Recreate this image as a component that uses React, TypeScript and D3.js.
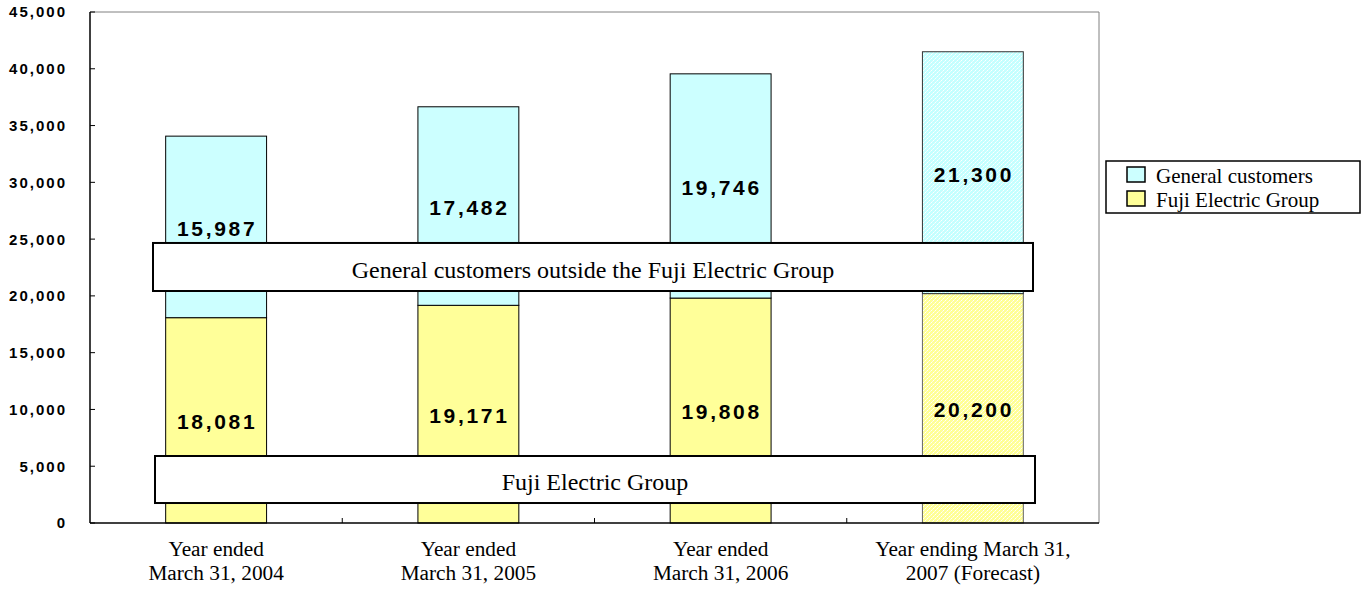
import { useEffect, useRef } from "react";
import * as d3 from "d3";

const categories = [
  ["Year ended", "March 31, 2004"],
  ["Year ended", "March 31, 2005"],
  ["Year ended", "March 31, 2006"],
  ["Year ending March 31,", "2007 (Forecast)"],
];
const fujiGroup = [18081, 19171, 19808, 20200];
const generalCustomers = [15987, 17482, 19746, 21300];
const forecast = [false, false, false, true];
const yTicks = [0, 5000, 10000, 15000, 20000, 25000, 30000, 35000, 40000, 45000];

const W = 1369;
const H = 589;
const SERIF = "'Liberation Serif', 'Times New Roman', serif";
const SANS = "'Liberation Sans', Arial, sans-serif";

export default function App() {
  const svgRef = useRef<SVGSVGElement | null>(null);

  useEffect(() => {
    const svg = d3.select(svgRef.current);
    svg.selectAll("*").remove();

    const left = 90, right = 1099, top = 12, bottom = 523;

    const x = d3.scaleBand<number>()
      .domain(d3.range(categories.length))
      .range([left, right])
      .paddingInner(0.6)
      .paddingOuter(0.3);
    const y = d3.scaleLinear().domain([0, 45000]).range([bottom, top]);

    // dotted fill for the forecast bar
    const defs = svg.append("defs");
    const mkPattern = (id: string, base: string) => {
      const p = defs.append("pattern")
        .attr("id", id)
        .attr("width", 4)
        .attr("height", 4)
        .attr("patternUnits", "userSpaceOnUse");
      p.append("rect").attr("width", 4).attr("height", 4).attr("fill", base);
      p.append("rect").attr("x", 1).attr("y", 0).attr("width", 1).attr("height", 1).attr("fill", "#fff");
      p.append("rect").attr("x", 3).attr("y", 2).attr("width", 1).attr("height", 1).attr("fill", "#fff");
      p.append("rect").attr("x", 0).attr("y", 1).attr("width", 1).attr("height", 1).attr("fill", "#fff").attr("opacity", 0.6);
      p.append("rect").attr("x", 2).attr("y", 3).attr("width", 1).attr("height", 1).attr("fill", "#fff").attr("opacity", 0.6);
    };
    mkPattern("patGen", "#c4ffff");
    mkPattern("patFuji", "#ffff96");

    // plot border (top/right)
    svg.append("path")
      .attr("d", `M${left},${top}H${right}V${bottom}`)
      .attr("fill", "none")
      .attr("stroke", "#808080")
      .attr("stroke-width", 1);

    const g = svg.append("g");

    categories.forEach((_, i) => {
      const bx = x(i)!;
      const bw = x.bandwidth();
      const f = fujiGroup[i];
      const gc = generalCustomers[i];
      const fc = forecast[i];
      g.append("rect")
        .attr("x", bx).attr("y", y(f))
        .attr("width", bw).attr("height", y(0) - y(f))
        .attr("fill", fc ? "url(#patFuji)" : "#ffff99")
        .attr("stroke", fc ? "#666" : "#000").attr("stroke-width", 1);
      g.append("rect")
        .attr("x", bx).attr("y", y(f + gc))
        .attr("width", bw).attr("height", y(f) - y(f + gc))
        .attr("fill", fc ? "url(#patGen)" : "#ccffff")
        .attr("stroke", fc ? "#333" : "#000").attr("stroke-width", 1);

      const lbl = (v: number, mid: number) =>
        g.append("text")
          .attr("x", bx + bw / 2 + 1)
          .attr("y", y(mid))
          .attr("dy", "0.42em")
          .attr("text-anchor", "middle")
          .attr("font-family", SANS)
          .attr("font-weight", "bold")
          .attr("font-size", 21)
          .attr("letter-spacing", 2.7)
          .attr("fill", "#000")
          .text(d3.format(",")(v));
      lbl(f, f / 2);
      lbl(gc, f + gc / 2);
    });

    // axes
    svg.append("line")
      .attr("x1", left).attr("x2", left).attr("y1", top).attr("y2", bottom)
      .attr("stroke", "#000").attr("stroke-width", 1.5);
    svg.append("line")
      .attr("x1", left).attr("x2", right).attr("y1", bottom).attr("y2", bottom)
      .attr("stroke", "#000").attr("stroke-width", 1.5);

    yTicks.forEach((t) => {
      svg.append("line")
        .attr("x1", left).attr("x2", left + 5)
        .attr("y1", y(t)).attr("y2", y(t))
        .attr("stroke", "#000");
      svg.append("text")
        .attr("x", 67)
        .attr("y", y(t))
        .attr("dy", "0.36em")
        .attr("text-anchor", "end")
        .attr("font-family", SANS)
        .attr("font-weight", "bold")
        .attr("font-size", 15)
        .attr("letter-spacing", 2)
        .text(d3.format(",")(t));
    });

    const step = x.step();
    for (let i = 1; i < categories.length; i++) {
      const tx = left + step * i;
      svg.append("line")
        .attr("x1", tx).attr("x2", tx)
        .attr("y1", bottom).attr("y2", bottom - 5)
        .attr("stroke", "#000");
    }

    categories.forEach((lines, i) => {
      const cx = x(i)! + x.bandwidth() / 2;
      lines.forEach((ln, j) => {
        svg.append("text")
          .attr("x", cx)
          .attr("y", 556 + j * 24)
          .attr("text-anchor", "middle")
          .attr("font-family", SERIF)
          .attr("font-size", 21.3)
          .text(ln);
      });
    });

    // annotation boxes
    const box = (x0: number, x1: number, v0: number, v1: number, label: string) => {
      svg.append("rect")
        .attr("x", x0).attr("y", y(v0))
        .attr("width", x1 - x0).attr("height", y(v1) - y(v0))
        .attr("fill", "#fff")
        .attr("stroke", "#000").attr("stroke-width", 2);
      svg.append("text")
        .attr("x", (x0 + x1) / 2)
        .attr("y", (y(v0) + y(v1)) / 2)
        .attr("dy", "0.45em")
        .attr("text-anchor", "middle")
        .attr("font-family", SERIF)
        .attr("font-size", 24)
        .text(label);
    };
    box(153, 1033, 24660, 20430, "General customers outside the Fuji Electric Group");
    box(155, 1035, 5900, 1760, "Fuji Electric Group");

    // legend
    const lg = svg.append("g");
    lg.append("rect")
      .attr("x", 1106).attr("y", 161).attr("width", 254).attr("height", 52)
      .attr("fill", "#fff").attr("stroke", "#000").attr("stroke-width", 1.5);
    const items = [
      { label: "General customers", color: "#ccffff" },
      { label: "Fuji Electric Group", color: "#ffff99" },
    ];
    items.forEach((it, i) => {
      const yy = 167 + i * 24;
      lg.append("rect")
        .attr("x", 1127).attr("y", yy).attr("width", 18).attr("height", 15)
        .attr("fill", it.color).attr("stroke", "#000").attr("stroke-width", 1.5);
      lg.append("text")
        .attr("x", 1156).attr("y", yy + 8)
        .attr("dy", "0.4em")
        .attr("font-family", SERIF)
        .attr("font-size", 21)
        .text(it.label);
    });
  }, []);

  return (
    <svg
      ref={svgRef}
      width={W}
      height={H}
      style={{ position: "absolute", left: 0, top: 0, background: "#fff" }}
    />
  );
}
